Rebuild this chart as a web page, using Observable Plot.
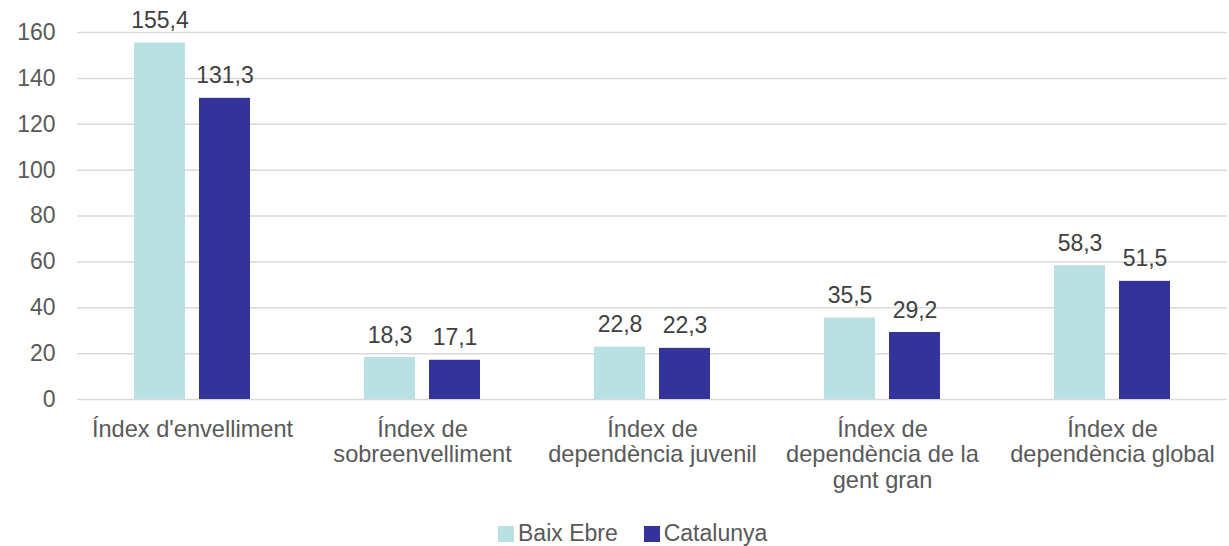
<!DOCTYPE html>
<html>
<head>
<meta charset="utf-8">
<script src="https://cdn.jsdelivr.net/npm/d3@7"></script>
<script src="https://cdn.jsdelivr.net/npm/@observablehq/plot@0.6"></script>
<style>
  html, body { margin: 0; padding: 0; background: #ffffff; }
  #wrap { position: relative; width: 1229px; height: 546px; font-family: "Liberation Sans", Arial, sans-serif; }
  #legend { position: absolute; left: 498px; top: 522px; display: flex; align-items: center; font-size: 23px; color: #595959; line-height: 1; }
  .item { display: flex; align-items: center; margin-right: 26px; }
  .sw { width: 16px; height: 16px; margin-right: 4px; }
</style>
</head>
<body>
<div id="wrap">
  <div id="chart"></div>
  <div id="legend"></div>
</div>
<script>
const categories = [
  "Índex d'envelliment",
  "Índex de sobreenvelliment",
  "Índex de dependència juvenil",
  "Índex de dependència de la gent gran",
  "Índex de dependència global"
];
const categoryLabels = [
  "Índex d'envelliment",
  "Índex de\nsobreenvelliment",
  "Índex de\ndependència juvenil",
  "Índex de\ndependència de la\ngent gran",
  "Índex de\ndependència global"
];
const series = ["Baix Ebre", "Catalunya"];
const baixEbre = [155.4, 18.3, 22.8, 35.5, 58.3];
const catalunya = [131.3, 17.1, 22.3, 29.2, 51.5];
const yTicks = [0, 20, 40, 60, 80, 100, 120, 140, 160];
const colors = ["#b9e0e3", "#343399"];

const rows = [];
categories.forEach((c, i) => {
  rows.push({category: c, series: series[0], value: baixEbre[i]});
  rows.push({category: c, series: series[1], value: catalunya[i]});
});
const labelOf = new Map(categories.map((c, i) => [c, categoryLabels[i]]));
const fmt = d => d.toFixed(1).replace(".", ",");

const chart = Plot.plot({
  width: 1229,
  height: 510,
  marginTop: 32,
  marginBottom: 111,
  marginLeft: 75,
  marginRight: 0,
  style: {fontFamily: "Liberation Sans, Arial, sans-serif", background: "#ffffff", overflow: "visible"},
  fx: {domain: categories, paddingInner: 0, paddingOuter: 0, label: null},
  x: {domain: series, paddingInner: 0.21, paddingOuter: 0.855, axis: null},
  y: {domain: [0, 160], label: null},
  color: {domain: series, range: colors},
  marks: [
    Plot.ruleY(yTicks, {stroke: "#d9d9d9", strokeWidth: 1.5}),
    Plot.barY(rows, {fx: "category", x: "series", y: "value", fill: "series"}),
    Plot.text(rows, {fx: "category", x: "series", y: "value", text: d => fmt(d.value), lineAnchor: "bottom", dy: -15, fontSize: 23, fill: "#404040"}),
    Plot.axisY({ticks: yTicks, tickSize: 0, tickPadding: 22, fontSize: 23, color: "#595959", label: null, tickFormat: d => String(d)}),
    Plot.axisFx({anchor: "bottom", tickSize: 0, tickPadding: 19, fontSize: 23.6, lineHeight: 1.09, color: "#595959", label: null, tickFormat: d => labelOf.get(d)})
  ]
});
document.getElementById("chart").appendChild(chart);

const legend = document.getElementById("legend");
series.forEach((s, i) => {
  const it = document.createElement("div");
  it.className = "item";
  const sw = document.createElement("div");
  sw.className = "sw";
  sw.style.background = colors[i];
  const t = document.createElement("span");
  t.textContent = s;
  it.appendChild(sw);
  it.appendChild(t);
  legend.appendChild(it);
});
</script>
</body>
</html>
